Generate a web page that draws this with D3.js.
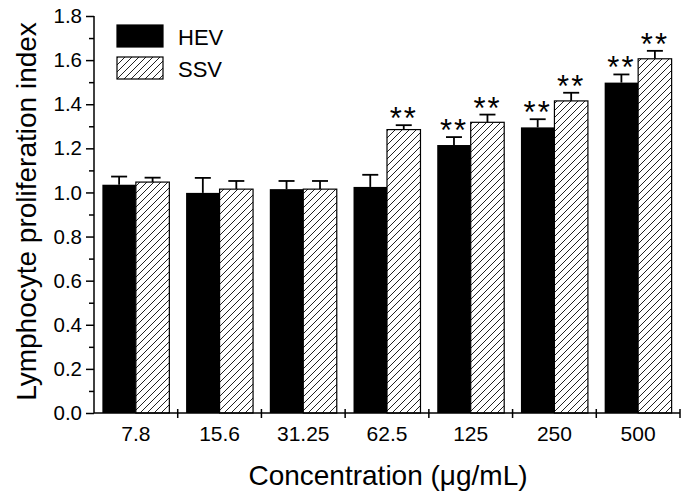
<!DOCTYPE html>
<html>
<head>
<meta charset="utf-8">
<script src="https://cdn.jsdelivr.net/npm/d3@7"></script>
<style>
  html, body { margin: 0; padding: 0; background: #fff; }
  svg { display: block; font-family: "Liberation Sans", Arial, sans-serif; }
</style>
</head>
<body>
<svg id="chart" width="685" height="495"></svg>
<script>
// ---- data ----
const categories = ["7.8", "15.6", "31.25", "62.5", "125", "250", "500"];
const seriesNames = ["HEV", "SSV"];
const hevValues = [1.035, 0.998, 1.015, 1.025, 1.215, 1.295, 1.498];
const hevErrors = [0.037, 0.068, 0.037, 0.055, 0.036, 0.037, 0.037];
const ssvValues = [1.047, 1.015, 1.015, 1.285, 1.318, 1.415, 1.606];
const ssvErrors = [0.020, 0.037, 0.037, 0.020, 0.035, 0.037, 0.036];
const hevSignificant = [false, false, false, false, true, true, true];
const ssvSignificant = [false, false, false, true, true, true, true];
const yMajorTicks = [0, 0.2, 0.4, 0.6, 0.8, 1.0, 1.2, 1.4, 1.6, 1.8];
const yMinorTicks = [0.1, 0.3, 0.5, 0.7, 0.9, 1.1, 1.3, 1.5, 1.7];
const xTitle = "Concentration (\u03bcg/mL)";
const yTitle = "Lymphocyte proliferation index";

// ---- layout ----
const svg = d3.select("#chart");
const pLeft = 94, pRight = 680, pTop = 16, pBottom = 413;

const x = d3.scaleBand().domain(categories).range([pLeft, pRight]).paddingInner(0).paddingOuter(0);
const xs = d3.scaleBand().domain(seriesNames).range([0, x.bandwidth()]).paddingInner(0).paddingOuter(0.25);
const y = d3.scaleLinear().domain([0, 1.8]).range([pBottom, pTop]);

const defs = svg.append("defs");
const pat = defs.append("pattern")
  .attr("id", "hatch").attr("patternUnits", "userSpaceOnUse")
  .attr("width", 7).attr("height", 7);
pat.append("rect").attr("width", 7).attr("height", 7).attr("fill", "#fff");
pat.append("path")
  .attr("d", "M-1,1 l2,-2 M0,7 l7,-7 M6,8 l2,-2")
  .attr("stroke", "#222").attr("stroke-width", 1);

const data = [];
categories.forEach((c, i) => {
  data.push({cat: c, s: "HEV", v: hevValues[i], e: hevErrors[i], sig: hevSignificant[i]});
  data.push({cat: c, s: "SSV", v: ssvValues[i], e: ssvErrors[i], sig: ssvSignificant[i]});
});

// error bars (drawn first, bars over them)
const eb = svg.append("g").attr("stroke", "#000").attr("stroke-width", 1.8);
data.forEach(d => {
  const cx = x(d.cat) + xs(d.s) + xs.bandwidth() / 2;
  eb.append("line").attr("x1", cx).attr("x2", cx).attr("y1", y(d.v)).attr("y2", y(d.v + d.e));
  eb.append("line").attr("x1", cx - 8).attr("x2", cx + 8).attr("y1", y(d.v + d.e)).attr("y2", y(d.v + d.e));
});

// bars
svg.append("g").selectAll("rect").data(data).join("rect")
  .attr("x", d => x(d.cat) + xs(d.s))
  .attr("y", d => y(d.v))
  .attr("width", xs.bandwidth())
  .attr("height", d => y(0) - y(d.v))
  .attr("fill", d => d.s === "HEV" ? "#000" : "url(#hatch)")
  .attr("stroke", "#000")
  .attr("stroke-width", d => d.s === "HEV" ? 0 : 1.2);

// significance stars
svg.append("g").selectAll("text").data(data.filter(d => d.sig)).join("text")
  .attr("x", d => x(d.cat) + xs(d.s) + xs.bandwidth() / 2)
  .attr("y", d => y(d.v + d.e) + 4)
  .attr("text-anchor", "middle")
  .attr("font-size", 31)
  .attr("letter-spacing", 2)
  .attr("fill", "#000")
  .text("**");

// y axis
const yAxis = svg.append("g").attr("transform", `translate(${pLeft},0)`)
  .call(d3.axisLeft(y).tickValues(yMajorTicks).tickSize(8).tickPadding(4).tickFormat(d3.format(".1f")));
yAxis.selectAll("text").attr("font-size", 20.5).attr("font-family", "Liberation Sans, Arial, sans-serif").attr("fill", "#000");
yAxis.selectAll("line").attr("stroke-width", 1.5);
yAxis.select(".domain").attr("d", `M0,${pBottom}V${pTop}`).attr("stroke-width", 1.5);
const yMinor = svg.append("g").attr("transform", `translate(${pLeft},0)`)
  .call(d3.axisLeft(y).tickValues(yMinorTicks).tickSize(5).tickFormat(""));
yMinor.select(".domain").remove();
yMinor.selectAll("line").attr("stroke-width", 1.5);

// x axis
const xAxisG = svg.append("g");
xAxisG.append("line").attr("x1", pLeft).attr("x2", pRight).attr("y1", pBottom).attr("y2", pBottom)
  .attr("stroke", "#000").attr("stroke-width", 1.5);
const boundaries = categories.slice(1).map(c => x(c)).concat([pRight]);
xAxisG.selectAll("line.tick").data(boundaries).join("line").attr("class", "tick")
  .attr("x1", d => d).attr("x2", d => d).attr("y1", pBottom - 4).attr("y2", pBottom + 5)
  .attr("stroke", "#000").attr("stroke-width", 1.5);
xAxisG.selectAll("text").data(categories).join("text")
  .attr("x", d => x(d) + x.bandwidth() / 2)
  .attr("y", 441)
  .attr("text-anchor", "middle")
  .attr("font-size", 21)
  .attr("fill", "#000")
  .text(d => d);

// titles
svg.append("text").attr("x", (pLeft + pRight) / 2 + 1).attr("y", 485)
  .attr("text-anchor", "middle").attr("font-size", 28).attr("fill", "#000").text(xTitle);
svg.append("text").attr("transform", `translate(36,${(pTop + pBottom) / 2 - 3}) rotate(-90)`)
  .attr("text-anchor", "middle").attr("font-size", 28).attr("fill", "#000").text(yTitle);

// legend
const legend = svg.append("g");
const legendItems = [
  {name: seriesNames[0], fill: "#000", y: 25},
  {name: seriesNames[1], fill: "url(#hatch)", y: 57}
];
legendItems.forEach(it => {
  legend.append("rect").attr("x", 117).attr("y", it.y).attr("width", 46).attr("height", 22)
    .attr("fill", it.fill).attr("stroke", "#000").attr("stroke-width", 1.2);
  legend.append("text").attr("x", 178).attr("y", it.y + 19.5).attr("font-size", 22)
    .attr("fill", "#000").text(it.name);
});
</script>
</body>
</html>
